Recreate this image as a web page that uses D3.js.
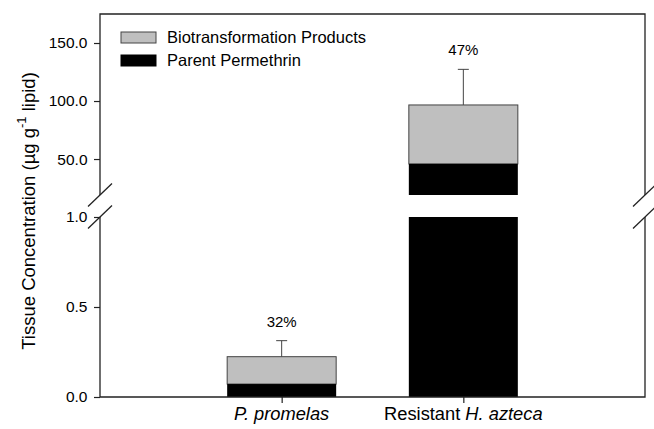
<!DOCTYPE html>
<html>
<head>
<meta charset="utf-8">
<script src="https://cdn.jsdelivr.net/npm/d3@7"></script>
<style>
  html, body { margin: 0; padding: 0; background: #fff; }
  svg { display: block; font-family: "Liberation Sans", Arial, sans-serif; }
</style>
</head>
<body>
<svg id="chart" width="654" height="429"></svg>
<script>
// Tissue concentrations (µg g-1 lipid)
const categories = ["P. promelas", "Resistant H. azteca"];
const parentPermethrin = [0.072, 45.8];
const totalConcentration = [0.224, 96.6];
const errorSD = [0.089, 30.7];
const percentLabels = ["32%", "47%"];
const lowerTicks = [0.0, 0.5, 1.0];
const upperTicks = [50.0, 100.0, 150.0];
const seriesNames = ["Biotransformation Products", "Parent Permethrin"];

(function draw() {
  const svg = d3.select("#chart");
  const plotL = 100, plotR = 645, plotT = 14, plotB = 397;
  const breakLo = 217, breakHi = 195;   // y range of the axis break

  const GRAY = "#bfbfbf", EDGE = "#444", AXIS = "#222";

  // Broken y axis: a lower segment and an upper segment
  const yLow = d3.scaleLinear().domain([0, 1.0]).range([plotB, breakLo]);
  const yUp = d3.scaleLinear().domain([19, 175]).range([breakHi, plotT]);

  const x = d3.scalePoint().domain(categories).range([plotL, plotR]).padding(1);
  const barW = x.step() * 0.6;

  // Bars
  const g = svg.append("g");
  categories.forEach((c, i) => {
    const x0 = x(c) - barW / 2;
    const p = parentPermethrin[i], t = totalConcentration[i], e = errorSD[i];
    const y = t <= 1.0 ? yLow : yUp;
    if (t > 1.0) {
      // lower segment, clipped at the top of the lower scale
      g.append("rect").attr("x", x0).attr("width", barW)
        .attr("y", yLow(1.0)).attr("height", yLow(0) - yLow(1.0))
        .attr("fill", "#000");
    }
    const base = t <= 1.0 ? 0 : yUp.domain()[0];
    g.append("rect").attr("x", x0).attr("width", barW)
      .attr("y", y(t)).attr("height", y(p) - y(t))
      .attr("fill", GRAY).attr("stroke", EDGE).attr("stroke-width", 1);
    g.append("rect").attr("x", x0).attr("width", barW)
      .attr("y", y(p)).attr("height", y(base) - y(p))
      .attr("fill", "#000");
    g.append("line").attr("x1", x(c)).attr("x2", x(c))
      .attr("y1", y(t)).attr("y2", y(t + e)).attr("stroke", EDGE);
    g.append("line").attr("x1", x(c) - 5.5).attr("x2", x(c) + 5.5)
      .attr("y1", y(t + e)).attr("y2", y(t + e)).attr("stroke", EDGE);
    g.append("text").attr("x", x(c)).attr("y", y(t + e) - 14)
      .attr("text-anchor", "middle").attr("font-size", 15).text(percentLabels[i]);
  });

  // Frame and axis lines (with gaps at the break)
  const frame = svg.append("g").attr("stroke", AXIS).attr("stroke-width", 1.3).attr("fill", "none");
  frame.append("path").attr("d", `M${plotL},${breakHi}V${plotT}H${plotR}V${breakHi}`);
  frame.append("path").attr("d", `M${plotL},${breakLo}V${plotB}H${plotR}V${breakLo}`);

  // Break marks
  [plotL, plotR].forEach(ax => {
    [breakHi, breakLo].forEach(by => {
      frame.append("line").attr("x1", ax - 12).attr("y1", by + 11.5)
        .attr("x2", ax + 12).attr("y2", by - 11.5);
    });
  });

  // Y axes
  const fmt = d3.format(".1f");
  const axL = svg.append("g").attr("transform", `translate(${plotL},0)`)
    .call(d3.axisLeft(yLow).tickValues(lowerTicks).tickFormat(fmt).tickSize(6).tickPadding(6.5));
  const axU = svg.append("g").attr("transform", `translate(${plotL},0)`)
    .call(d3.axisLeft(yUp).tickValues(upperTicks).tickFormat(fmt).tickSize(6).tickPadding(6.5));
  [axL, axU].forEach(a => {
    a.select(".domain").remove();
    a.selectAll(".tick line").attr("stroke", AXIS).attr("stroke-width", 1.2);
    a.selectAll(".tick text").attr("font-size", 15.5).attr("fill", "#000")
      .attr("font-family", "Liberation Sans, Arial, sans-serif");
  });

  // X axis ticks and labels
  const axX = svg.append("g").attr("transform", `translate(0,${plotB})`)
    .call(d3.axisBottom(x).tickSize(6).tickFormat(""));
  axX.select(".domain").remove();
  axX.selectAll(".tick line").attr("stroke", AXIS).attr("stroke-width", 1.2);

  const xLab = svg.append("g").attr("font-size", 18.3).attr("text-anchor", "middle");
  const t1 = xLab.append("text").attr("x", x(categories[0])).attr("y", 420);
  t1.append("tspan").attr("font-style", "italic").text("P. promelas");
  const t2 = xLab.append("text").attr("x", x(categories[1])).attr("y", 420);
  t2.append("tspan").text("Resistant ");
  t2.append("tspan").attr("font-style", "italic").text("H. azteca");

  // Y axis title
  const yt = svg.append("text").attr("transform", "translate(35,211) rotate(-90)")
    .attr("text-anchor", "middle").attr("font-size", 18.5);
  yt.append("tspan").text("Tissue Concentration (µg g");
  yt.append("tspan").attr("font-size", 13).attr("dy", -9).text("-1");
  yt.append("tspan").attr("dy", 9).text(" lipid)");

  // Legend
  const lg = svg.append("g");
  const swatch = [GRAY, "#000"];
  seriesNames.forEach((n, i) => {
    const yy = 32 + i * 23;
    lg.append("rect").attr("x", 121).attr("y", yy).attr("width", 35).attr("height", 11)
      .attr("fill", swatch[i]).attr("stroke", i === 0 ? EDGE : "#000").attr("stroke-width", 1);
    lg.append("text").attr("x", 167).attr("y", yy + 11.3).attr("font-size", 16.5).text(n);
  });
})();
</script>
</body>
</html>
